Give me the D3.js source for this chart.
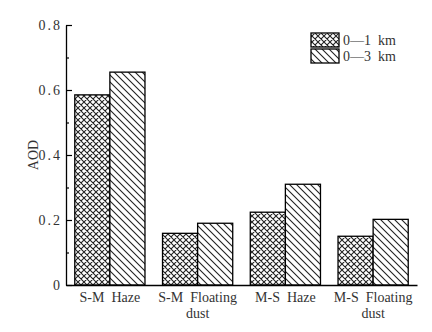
<!DOCTYPE html>
<html><head><meta charset="utf-8">
<script src="https://cdn.jsdelivr.net/npm/d3@7"></script>
<style>body{margin:0;background:#fff}svg{display:block}</style>
</head><body>
<script>
const categories = [["S-M  Haze"], ["S-M  Floating", "dust"], ["M-S  Haze"], ["M-S  Floating", "dust"]];
const seriesNames = ["0\u20141  km", "0\u20143  km"];
const aod01 = [0.585, 0.159, 0.224, 0.150];
const aod03 = [0.655, 0.190, 0.310, 0.202];
const yTicks = [0, 0.2, 0.4, 0.6, 0.8];
const yTickLabels = ["0", "0.2", "0.4", "0.6", "0.8"];
const yMinorTicks = [0.1, 0.3, 0.5, 0.7];

const W = 432, H = 332;
const m = {left: 66, right: 15, top: 25, bottom: 47};
const svg = d3.select("body").append("svg").attr("width", W).attr("height", H);
const defs = svg.append("defs");

const p1 = defs.append("pattern").attr("id", "cross").attr("patternUnits", "userSpaceOnUse")
  .attr("width", 6).attr("height", 6);
p1.append("rect").attr("width", 6).attr("height", 6).attr("fill", "#fff");
p1.append("path").attr("d", "M-1,-1L7,7M-1,5L1,7M5,-1L7,1M-1,7L7,-1M-1,1L1,-1M5,7L7,5")
  .attr("stroke", "#222").attr("stroke-width", 1.1);
const p2 = defs.append("pattern").attr("id", "diag").attr("patternUnits", "userSpaceOnUse")
  .attr("width", 7).attr("height", 7);
p2.append("rect").attr("width", 7).attr("height", 7).attr("fill", "#fff");
p2.append("path").attr("d", "M-1,-1L8,8M-1,6L1,8M6,-1L8,1")
  .attr("stroke", "#222").attr("stroke-width", 1.1);

const x0 = d3.scaleBand().domain(d3.range(categories.length))
  .range([m.left, W - m.right]).paddingInner(0.2).paddingOuter(0.1);
const x1 = d3.scaleBand().domain([0, 1]).range([0, x0.bandwidth()]);
const y = d3.scaleLinear().domain([0, 0.8]).range([H - m.bottom, m.top]);

const fills = ["url(#cross)", "url(#diag)"];
const series = [aod01, aod03];
const g = svg.append("g");
categories.forEach((c, i) => {
  series.forEach((s, j) => {
    g.append("rect")
      .attr("x", x0(i) + x1(j))
      .attr("y", y(s[i]))
      .attr("width", x1.bandwidth())
      .attr("height", y(0) - y(s[i]))
      .attr("fill", fills[j]).attr("stroke", "#000").attr("stroke-width", 1.3);
  });
});

const font = "'Liberation Serif', 'DejaVu Serif', serif";
const yAxis = d3.axisLeft(y).tickValues(yTicks).tickFormat((d, i) => yTickLabels[i])
  .tickSizeInner(-6).tickSizeOuter(0).tickPadding(4);
const ya = svg.append("g").attr("transform", `translate(${m.left},0)`).call(yAxis);
ya.select(".domain").attr("stroke", "#000").attr("stroke-width", 1.3);
ya.selectAll(".tick line").attr("stroke", "#000").attr("stroke-width", 1.2);
ya.selectAll(".tick text").attr("font-family", font).attr("font-size", 14)
  .attr("letter-spacing", "2px").attr("fill", "#333");
const yMin = d3.axisLeft(y).tickValues(yMinorTicks).tickFormat("").tickSizeInner(-3).tickSizeOuter(0);
const ym = svg.append("g").attr("transform", `translate(${m.left},0)`).call(yMin);
ym.select(".domain").remove();
ym.selectAll(".tick line").attr("stroke", "#000").attr("stroke-width", 1.2);

const xAxis = d3.axisBottom(x0).tickSize(0).tickFormat("");
const xa = svg.append("g").attr("transform", `translate(0,${y(0)})`).call(xAxis);
xa.select(".domain").attr("stroke", "#000").attr("stroke-width", 1.3);
categories.forEach((lines, i) => {
  lines.forEach((t, k) => {
    svg.append("text").attr("x", x0(i) + x0.bandwidth() / 2).attr("y", y(0) + 17 + k * 16)
      .attr("text-anchor", "middle").attr("font-family", font).attr("font-size", 14)
      .attr("fill", "#333").style("white-space", "pre").text(t);
  });
});

svg.append("text").attr("transform", `translate(38,${(y(0) + y(0.8)) / 2}) rotate(-90)`)
  .attr("text-anchor", "middle").attr("font-family", font).attr("font-size", 14)
  .attr("fill", "#333").text("AOD");

const lg = svg.append("g");
seriesNames.forEach((n, j) => {
  lg.append("rect").attr("x", 311).attr("y", 33 + j * 16).attr("width", 28).attr("height", 14)
    .attr("fill", fills[j]).attr("stroke", "#000").attr("stroke-width", 1.3);
  lg.append("text").attr("x", 343).attr("y", 45 + j * 16).attr("font-family", font)
    .attr("font-size", 14).attr("fill", "#333").style("white-space", "pre").text(n);
});
</script>
</body></html>
